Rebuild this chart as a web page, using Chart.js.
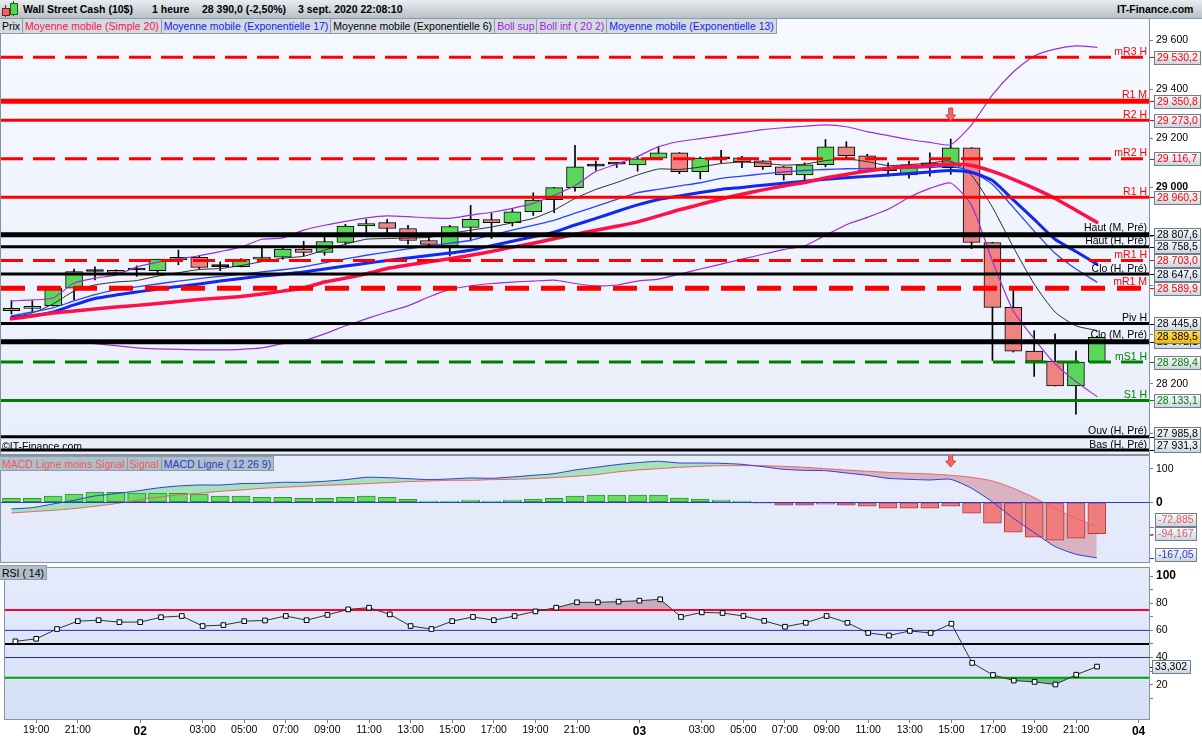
<!DOCTYPE html>
<html><head><meta charset="utf-8">
<script src="https://cdn.jsdelivr.net/npm/chart.js@4.4.1/dist/chart.umd.min.js"></script>
<style>
html,body{margin:0;padding:0}
body{width:1202px;height:740px;overflow:hidden;background:#fff;position:relative;font-family:"Liberation Sans",Arial,sans-serif;font-size:10.5px;color:#000}
canvas{position:absolute;left:0}
.ov{position:absolute;white-space:nowrap;z-index:5}
#title{left:0;top:0;width:1202px;height:19px;background:linear-gradient(#e9edf0,#b7c1c9);border-bottom:1px solid #8d9aa5;box-sizing:border-box;font-weight:bold;line-height:18px}
#title span{position:absolute;top:0}
.leg{display:flex;height:15px;line-height:14px;box-sizing:border-box}
.leg span{padding:0 2px;border-right:1px solid #8e9ca8;border-bottom:1px solid #8e9ca8}
#legMain span{background:#d3dbe1}
#legMacd span,#legRsi span{background:#aebfca;border-top:1px solid #8e9ca8}
</style></head>
<body>
<div id="title" class="ov">
  <div style="position:absolute;left:5px;top:5px;width:1px;height:12px;background:#333"></div>
  <div style="position:absolute;left:2px;top:8px;width:6px;height:6px;background:#f06060;border:1px solid #702020"></div>
  <div style="position:absolute;left:13px;top:1px;width:1px;height:15px;background:#333"></div>
  <div style="position:absolute;left:10px;top:3px;width:6px;height:10px;background:#50d850;border:1px solid #206020"></div>
  <span style="left:23px">Wall Street Cash (10$)</span>
  <span style="left:152px">1 heure</span>
  <span style="left:202px">28 390,0 (-2,50%)</span>
  <span style="left:298px">3 sept. 2020 22:08:10</span>
  <span style="left:1117px">IT-Finance.com</span>
</div>
<div id="legMain" class="ov leg" style="left:0;top:19px">
  <span style="color:#000">Prix</span>
  <span style="color:#ff1048">Moyenne mobile (Simple 20)</span>
  <span style="color:#1020ff">Moyenne mobile (Exponentielle 17)</span>
  <span style="color:#000">Moyenne mobile (Exponentielle 6)</span>
  <span style="color:#a020e0">Boll sup</span>
  <span style="color:#a020e0">Boll inf ( 20 2)</span>
  <span style="color:#1020ff">Moyenne mobile (Exponentielle 13)</span>
</div>
<div class="ov" style="left:2px;top:440px;line-height:12px">©IT-Finance.com</div>
<div id="legMacd" class="ov leg" style="left:0;top:456px">
  <span style="color:#f05a5a">MACD Ligne moins Signal</span>
  <span style="color:#f05a5a">Signal</span>
  <span style="color:#2a3ad0">MACD Ligne ( 12 26 9)</span>
</div>
<div id="legRsi" class="ov leg" style="left:0;top:565px">
  <span>RSI ( 14)</span>
</div>

<canvas id="cMain" width="1202" height="437" style="top:18px"></canvas>
<canvas id="cMacd" width="1202" height="108" style="top:455px"></canvas>
<canvas id="cRsi" width="1202" height="177" style="top:563px"></canvas>

<script>
// ===================== DATA =====================
// Hourly candles from 1 Sept 18:00 to 3 Sept 22:00
const openP  = [28498,28508,28519,28590,28658,28662,28664,28661,28705,28716,28678,28678,28708,28716,28749,28735,28776,28843,28857,28833,28784,28762,28837,28869,28857,28901,28950,28999,29087,29095,29092,29119,29141,29064,29116,29120,29108,29084,29051,29093,29165,29129,29068,29051,29092,29080,29161,28776,28512,28334,28293,28192,28289];
const highP  = [28539,28539,28590,28668,28677,28665,28681,28708,28745,28723,28697,28710,28756,28757,28781,28800,28850,28870,28870,28846,28796,28846,28927,28895,28911,28978,29000,29171,29107,29101,29127,29165,29142,29124,29151,29127,29109,29086,29100,29195,29186,29135,29100,29107,29141,29197,29162,28777,28586,28417,28404,28334,28394];
const lowP   = [28485,28492,28517,28543,28624,28650,28638,28651,28685,28668,28661,28676,28705,28708,28721,28724,28769,28816,28816,28769,28756,28721,28782,28792,28843,28886,28897,28985,29069,29081,29066,29116,29056,29035,29100,29080,29073,29030,29021,29084,29116,29065,29046,29038,29046,29053,28751,28296,28330,28231,28192,28077,28289];
const closeP = [28508,28516,28589,28658,28658,28654,28664,28708,28716,28674,28678,28707,28717,28749,28735,28780,28843,28853,28833,28784,28768,28841,28870,28857,28901,28949,28999,29084,29087,29095,29116,29141,29064,29119,29116,29104,29084,29051,29092,29165,29129,29068,29068,29092,29092,29161,28776,28512,28334,28293,28192,28289,28389.5];

const sma20  = [28465,28477,28489,28497,28505,28513,28520,28528,28536,28544,28550,28556,28566,28578,28591,28615,28631,28649,28670,28684,28697,28710,28724,28739,28757,28773,28791,28809,28826,28842,28860,28884,28909,28931,28953,28972,28990,29006,29020,29039,29053,29067,29077,29084,29089,29095,29089,29065,29033,28996,28955,28907,28858];
const ema17  = [28471,28478,28493,28522,28548,28562,28574,28587,28597,28607,28619,28629,28639,28647,28656,28668,28680,28691,28703,28713,28723,28733,28744,28763,28781,28799,28818,28847,28874,28902,28929,28951,28965,28979,28992,29000,29009,29017,29025,29033,29039,29045,29051,29057,29063,29069,29061,29028,28949,28870,28789,28739,28688];
const ema13  = [28477,28493,28510,28538,28564,28583,28595,28607,28619,28629,28638,28647,28656,28665,28677,28693,28709,28724,28737,28750,28762,28773,28785,28806,28826,28846,28866,28895,28923,28951,28979,28992,29006,29019,29037,29046,29055,29063,29069,29073,29076,29077,29078,29079,29081,29086,29065,29012,28919,28822,28732,28668,28615];
const ema6   = [28473,28489,28526,28578,28603,28615,28621,28639,28653,28666,28670,28682,28698,28712,28720,28745,28769,28789,28792,28794,28797,28812,28826,28839,28856,28874,28908,28955,28992,29020,29051,29075,29073,29083,29097,29103,29099,29091,29095,29109,29116,29105,29089,29093,29099,29107,29049,28919,28757,28607,28493,28437,28418];
const bollSup = [28538,28542,28550,28611,28631,28643,28676,28696,28710,28722,28739,28757,28789,28795,28826,28846,28862,28876,28884,28881,28876,28874,28887,28899,28915,28935,28968,29008,29065,29095,29126,29166,29187,29199,29211,29223,29235,29243,29249,29255,29247,29227,29211,29195,29183,29174,29255,29377,29470,29535,29563,29576,29570];
const bollInf = [28376,28380,28380,28372,28364,28356,28347,28343,28341,28339,28339,28341,28347,28364,28376,28404,28437,28465,28493,28518,28554,28585,28599,28609,28615,28619,28623,28609,28599,28603,28619,28627,28647,28668,28688,28708,28728,28747,28762,28805,28848,28878,28911,28959,28996,29018,28927,28700,28497,28384,28282,28210,28149];

const macdLine = [-20,-16,-5,6,19,26,34,43,49,52,52,56,57,60,60,63,68,75,74,71,68,70,73,72,76,81,86,97,105,113,119,123,118,118,117,114,107,99,96,95,88,81,72,69,67,69,42,1,-48,-91,-133,-156,-167.05];
const macdSignal = [-32,-28,-24,-19,-12,-4,6,15,22,27,33,37,42,45,48,51,53,56,59,62,64,66,66,68,69,71,74,78,83,91,97,101,105,108,110,110,110,108,105,101,97,93,90,87,85,81,75,64,42,14,-19,-48,-72.885];
const macdHist = [12,12,19,25,31,30,28,28,27,25,19,19,15,15,12,12,15,19,15,9,4,4,7,4,7,10,12,19,22,22,22,22,13,10,7,4,-3,-9,-9,-6,-9,-12,-18,-18,-18,-12,-33,-63,-90,-105,-114,-108,-94.167];

const rsi14 = [51.9,53.8,61.0,66.8,67.5,66.1,66.1,69.7,70.6,63.2,63.9,66.8,67.3,70.6,67.5,71.4,75.5,76.7,71.8,63.2,61.0,66.8,69.9,67.5,70.6,74.0,76.7,80.7,80.7,81.2,81.9,82.9,69.9,73.3,72.8,70.6,67.0,62.7,65.6,70.6,65.6,58.1,56.2,59.6,58.1,64.9,36.0,27.1,23.0,22.0,20.1,27.3,33.302];

// Pivot / reference levels
const levelValues = [29530.2,29350.8,29273.0,29116.7,28960.3,28807.6,28758.5,28703.0,28647.6,28589.9,28445.8,28372.1,28289.4,28133.1,27985.8,27931.3];
const levelNames  = ['mR3 H','R1 M','R2 H','mR2 H','R1 H','Haut (M, Pré)','Haut (H, Pré)','mR1 H','Clo (H, Pré)','mR1 M','Piv H','Clo (M, Pré)','mS1 H','S1 H','Ouv (H, Pré)','Bas (H, Pré)'];
const lastPrice = 28389.5;
const signalCandle = 45;

// Axis ticks
const priceTicks = [28000,28200,28400,28600,28800,29000,29200,29400,29600];
const macdTicks = [-100,0,100];
const rsiTicks = [10,20,30,40,50,60,70,80,90,100];
const rsiLevels = [75,60,50,40,25];
const tickSlots  = [1,3,6,9,11,13,15,17,19,21,23,25,27,30,33,35,37,39,41,43,45,47,49,51,54];
const tickLabels = ['19:00','21:00','02','03:00','05:00','07:00','09:00','11:00','13:00','15:00','17:00','19:00','21:00','03','03:00','05:00','07:00','09:00','11:00','13:00','15:00','17:00','19:00','21:00','04'];
const dayLabels = ['02','03','04'];

// ===================== STYLES =====================
const FONT = '"Liberation Sans", Arial, sans-serif';
const RED = '#ff0000', BLK = '#000000', GRN = '#008000';
const S = {
  r:   {c:RED, w:3, d:[]},   rT: {c:RED, w:5, d:[]},
  rd:  {c:RED, w:3, d:[22,10]}, rdT:{c:RED, w:5, d:[24,12]},
  k:   {c:BLK, w:3, d:[]},   kT: {c:BLK, w:5, d:[]},
  g:   {c:GRN, w:3, d:[]},   gd: {c:GRN, w:3, d:[22,10]}
};
const levelStyle = [S.rd,S.rT,S.r,S.rd,S.r,S.kT,S.k,S.rd,S.k,S.rdT,S.k,S.kT,S.gd,S.g,S.k,S.k];
const rsiLevelStyle = [{c:'#ff0030',w:2},{c:'#2828d0',w:1},{c:'#000',w:2},{c:'#2828d0',w:1},{c:'#00a000',w:2}];
const AXIS_W = 53;
const X_MIN = -0.5, X_MAX = 54.5;

Chart.defaults.font.family = FONT;
Chart.defaults.font.size = 10.5;
Chart.defaults.color = '#000';
Chart.defaults.animation = false;
Chart.defaults.events = [];
Chart.defaults.plugins.legend.display = false;
Chart.defaults.plugins.tooltip.enabled = false;

function xy(arr){ return arr.map((v,i)=>({x:i,y:v})); }
function fmtNum(v,d){
  let s = Math.abs(v).toFixed(d);
  let parts = s.split('.');
  let ip = parts[0].replace(/\B(?=(\d{3})+(?!\d))/g,' ');
  return (v<0?'-':'') + ip + (parts.length>1 ? ','+parts[1] : '');
}
function fitY(s){ s.width = AXIS_W; s.paddingTop = 0; s.paddingBottom = 0; }
function fitX(s){ s.height = 21; s.paddingLeft = 0; s.paddingRight = 0; }

const bgPlugin = {
  id:'bg',
  beforeDraw(chart, args, o){
    const {ctx, chartArea:a, width, height} = chart;
    ctx.save();
    ctx.fillStyle = '#fff'; ctx.fillRect(0,0,width,height);
    const g = ctx.createLinearGradient(0,a.top,0,a.bottom);
    g.addColorStop(0,o.top); g.addColorStop(1,o.bottom);
    ctx.fillStyle = g; ctx.fillRect(a.left,a.top,a.right-a.left,a.bottom-a.top);
    ctx.restore();
  },
  afterDraw(chart){
    const {ctx, chartArea:a} = chart;
    ctx.save();
    ctx.strokeStyle = '#8393a2'; ctx.lineWidth = 1;
    ctx.strokeRect(Math.floor(a.left)-0.5, Math.floor(a.top)-0.5, Math.round(a.right-a.left)+1, Math.round(a.bottom-a.top)+1);
    ctx.restore();
  }
};

function drawBox(ctx, x, yc, text, color, yellow){
  ctx.font = '10.5px ' + FONT;
  const w = Math.ceil(ctx.measureText(text).width) + 5;
  const h = 13;
  const top = Math.round(yc - h/2) + 0.5;
  const left = Math.round(x) + 0.5;
  const g = ctx.createLinearGradient(0,top,0,top+h);
  if (yellow){ g.addColorStop(0,'#ffe05a'); g.addColorStop(1,'#f2b800'); }
  else { g.addColorStop(0,'#fbfcff'); g.addColorStop(1,'#cbd5df'); }
  ctx.fillStyle = g; ctx.fillRect(left,top,w,h);
  ctx.strokeStyle = '#6e7e8e'; ctx.lineWidth = 1; ctx.strokeRect(left,top,w,h);
  ctx.fillStyle = color; ctx.textAlign = 'left'; ctx.textBaseline = 'middle';
  ctx.fillText(text, left+2.5, top+h/2+0.5);
}
function spreadBoxes(items, h, maxY){
  items.sort((p,q)=>p.y-q.y);
  for (let i=items.length-1;i>=0;i--){
    const lim = (i===items.length-1) ? maxY : items[i+1].by - h;
    items[i].by = Math.min(items[i].y, lim);
  }
  return items;
}
function drawArrow(ctx, x, tip){
  ctx.save();
  ctx.beginPath();
  ctx.moveTo(x-2,tip-13); ctx.lineTo(x+2,tip-13); ctx.lineTo(x+2,tip-6); ctx.lineTo(x+5,tip-6);
  ctx.lineTo(x,tip); ctx.lineTo(x-5,tip-6); ctx.lineTo(x-2,tip-6); ctx.closePath();
  ctx.fillStyle = '#f26868'; ctx.fill();
  ctx.strokeStyle = '#c84040'; ctx.lineWidth = 1; ctx.stroke();
  ctx.restore();
}

// ---------- main price chart ----------
const levelPlugin = {
  id:'levels',
  afterDatasetsDraw(chart){
    const {ctx, chartArea:a, scales:{y}} = chart;
    ctx.save();
    ctx.beginPath(); ctx.rect(a.left,a.top,a.right-a.left,a.bottom-a.top); ctx.clip();
    levelValues.forEach((v,i)=>{
      const st = levelStyle[i];
      const py = y.getPixelForValue(v);
      ctx.strokeStyle = st.c; ctx.lineWidth = st.w; ctx.setLineDash(st.d);
      ctx.beginPath(); ctx.moveTo(a.left,py); ctx.lineTo(a.right,py); ctx.stroke();
    });
    ctx.setLineDash([]);
    ctx.font = '10.5px ' + FONT; ctx.textAlign = 'right'; ctx.textBaseline = 'alphabetic';
    levelValues.forEach((v,i)=>{
      const st = levelStyle[i];
      const py = y.getPixelForValue(v);
      ctx.fillStyle = st.c;
      ctx.fillText(levelNames[i], a.right-2, py - st.w/2 - 1);
    });
    ctx.restore();
  },
  afterDraw(chart){
    const {ctx, chartArea:a, scales:{x,y}} = chart;
    ctx.save();
    drawArrow(ctx, x.getPixelForValue(signalCandle), y.getPixelForValue(highP[signalCandle]) - 18);
    const items = levelValues.map((v,i)=>({y:y.getPixelForValue(v), v, c:levelStyle[i].c}));
    spreadBoxes(items, 12.5, a.bottom - 8.5);
    items.forEach(it=>{
      ctx.strokeStyle = it.c; ctx.lineWidth = 1;
      ctx.beginPath(); ctx.moveTo(a.right+1, Math.round(it.y)+0.5); ctx.lineTo(a.right+5, Math.round(it.y)+0.5); ctx.stroke();
      drawBox(ctx, a.right+5, it.by, fmtNum(it.v,1), it.c, false);
    });
    drawBox(ctx, a.right+5, y.getPixelForValue(lastPrice) - 1, fmtNum(lastPrice,1), '#000', true);
    ctx.restore();
  }
};

function candleColor(i){
  if (closeP[i] > openP[i]) return '#5ad65a';
  if (closeP[i] < openP[i]) return '#f08282';
  return '#000';
}
function lineDs(arr, color, w, order){
  return {type:'line', data:xy(arr), borderColor:color, borderWidth:w, pointRadius:0, tension:0.2, fill:false, order, borderJoinStyle:'round', borderCapStyle:'round'};
}

new Chart(document.getElementById('cMain'), {
  type:'bar',
  data:{datasets:[
    lineDs(sma20,'#ff1048',3.5,1),
    lineDs(ema17,'#1028f0',3,2),
    lineDs(ema13,'#2a44ff',1.3,3),
    lineDs(ema6,'#2a2a2a',1,4),
    lineDs(bollSup,'#9c30d8',1.2,5),
    lineDs(bollInf,'#9c30d8',1.2,6),
    {type:'bar', data:openP.map((o,i)=>({x:i,y:[o,closeP[i]]})), barThickness:17, grouped:false,
     backgroundColor:(c)=>candleColor(c.dataIndex), borderColor:'#000', borderWidth:1, borderSkipped:false, minBarLength:2, order:7},
    {type:'bar', data:lowP.map((l,i)=>({x:i,y:[l,highP[i]]})), barThickness:1, grouped:false,
     backgroundColor:'#000', borderWidth:0, order:8}
  ]},
  options:{
    responsive:false, devicePixelRatio:1,
    layout:{padding:{left:1,right:0,top:1,bottom:1}},
    scales:{
      x:{type:'linear', min:X_MIN, max:X_MAX, display:false, offset:false},
      y:{type:'linear', position:'right', min:27915.1, max:29685.5,
        afterFit: fitY,
        afterBuildTicks(s){ s.ticks = priceTicks.map(v=>({value:v})); },
        ticks:{autoSkip:false, callback:(v)=>fmtNum(v,0), padding:3, color:'#000',
          font:(c)=>({family:FONT, size:10.5, weight:(c.tick && c.tick.value%1000===0)?'bold':'normal'})},
        grid:{drawOnChartArea:false, tickLength:4, color:'#6f7f8f'},
        border:{color:'#7f8f9f'}
      }
    },
    plugins:{bg:{top:'#f7f9ff', bottom:'#e8eefa'}}
  },
  plugins:[bgPlugin, levelPlugin]
});

// ---------- MACD chart ----------
const macdPlugin = {
  id:'macdExtras',
  afterDatasetsDraw(chart){
    const {ctx, chartArea:a, scales:{y}} = chart;
    const py = Math.round(y.getPixelForValue(0)) + 0.5;
    ctx.save();
    ctx.strokeStyle = '#2a3ae0'; ctx.lineWidth = 1;
    ctx.beginPath(); ctx.moveTo(a.left,py); ctx.lineTo(a.right,py); ctx.stroke();
    ctx.restore();
  },
  afterDraw(chart){
    const {ctx, chartArea:a, scales:{x,y}} = chart;
    ctx.save();
    drawArrow(ctx, x.getPixelForValue(signalCandle), a.top + 11);
    const n = macdLine.length - 1;
    const items = [
      {v:macdSignal[n], c:'#e85a5a', d:3},
      {v:macdHist[n], c:'#e85a5a', d:3},
      {v:macdLine[n], c:'#2a3ad0', d:2}
    ].map(it=>Object.assign(it,{y:y.getPixelForValue(it.v)}));
    spreadBoxes(items, 14, a.bottom - 7.5);
    items.forEach(it=>{
      ctx.strokeStyle = it.c; ctx.lineWidth = 1;
      ctx.beginPath(); ctx.moveTo(a.right+1, Math.round(it.y)+0.5); ctx.lineTo(a.right+5, Math.round(it.y)+0.5); ctx.stroke();
      drawBox(ctx, a.right+6, it.by, fmtNum(it.v,it.d), it.c, false);
    });
    ctx.restore();
  }
};

new Chart(document.getElementById('cMacd'), {
  type:'bar',
  data:{datasets:[
    {type:'line', data:xy(macdLine), borderColor:'#2a3ae0', borderWidth:1, pointRadius:0, tension:0.2, order:1,
     fill:{target:1, above:'rgba(110,220,135,0.55)', below:'rgba(205,110,125,0.45)'}},
    {type:'line', data:xy(macdSignal), borderColor:'#f06060', borderWidth:1, pointRadius:0, tension:0.2, order:2, fill:false},
    {type:'bar', data:xy(macdHist), barThickness:18, grouped:false, order:3,
     backgroundColor:(c)=> macdHist[c.dataIndex] >= 0 ? '#66dc66' : '#f07d7d',
     borderColor:(c)=> macdHist[c.dataIndex] >= 0 ? '#2a9a2a' : '#b03a3a',
     borderWidth:1, borderSkipped:false}
  ]},
  options:{
    responsive:false, devicePixelRatio:1,
    layout:{padding:{left:1,right:0,top:1,bottom:1}},
    scales:{
      x:{type:'linear', min:X_MIN, max:X_MAX, display:false, offset:false},
      y:{type:'linear', position:'right', min:-179.3, max:139,
        afterFit: fitY,
        afterBuildTicks(s){ s.ticks = macdTicks.map(v=>({value:v})); },
        ticks:{autoSkip:false, callback:(v)=>String(v), padding:3, color:'#000',
          font:(c)=>({family:FONT, size:c.tick && c.tick.value===0 ? 12 : 10.5, weight:(c.tick && c.tick.value===0)?'bold':'normal'})},
        grid:{drawOnChartArea:false, tickLength:4, color:'#6f7f8f'},
        border:{color:'#7f8f9f'}
      }
    },
    plugins:{bg:{top:'#e7edfb', bottom:'#e3e9fa'}, filler:{drawTime:'beforeDatasetsDraw'}}
  },
  plugins:[bgPlugin, macdPlugin]
});

// ---------- RSI chart ----------
const rsiPlugin = {
  id:'rsiExtras',
  beforeDatasetsDraw(chart){
    const {ctx, chartArea:a, scales:{y}} = chart;
    ctx.save();
    rsiLevels.forEach((v,i)=>{
      const st = rsiLevelStyle[i];
      const py = y.getPixelForValue(v);
      ctx.strokeStyle = st.c; ctx.lineWidth = st.w;
      ctx.beginPath(); ctx.moveTo(a.left,py); ctx.lineTo(a.right,py); ctx.stroke();
    });
    ctx.restore();
  },
  afterDraw(chart){
    const {ctx, chartArea:a, scales:{y}} = chart;
    const v = rsi14[rsi14.length-1];
    const py = y.getPixelForValue(v);
    ctx.save();
    ctx.strokeStyle = '#000'; ctx.lineWidth = 1;
    ctx.beginPath(); ctx.moveTo(a.right+1, Math.round(py)+0.5); ctx.lineTo(a.right+4, Math.round(py)+0.5); ctx.stroke();
    drawBox(ctx, a.right+3, py, fmtNum(v,3), '#000', false);
    ctx.restore();
  }
};

new Chart(document.getElementById('cRsi'), {
  type:'line',
  data:{datasets:[
    {data:xy(rsi14), borderColor:'#333', borderWidth:1, tension:0,
     pointStyle:'rect', pointRadius:3.3, pointBackgroundColor:'#fff', pointBorderColor:'#000', pointBorderWidth:1,
     fill:{target:{value:75}, above:'rgba(170,95,115,0.45)', below:'rgba(0,0,0,0)'}},
    {data:xy(rsi14), borderWidth:0, borderColor:'rgba(0,0,0,0)', pointRadius:0, tension:0,
     fill:{target:{value:25}, above:'rgba(0,0,0,0)', below:'rgba(40,160,70,0.6)'}}
  ]},
  options:{
    responsive:false, devicePixelRatio:1,
    layout:{padding:{left:1,right:0,top:2,bottom:0}},
    scales:{
      x:{type:'linear', min:X_MIN, max:X_MAX, position:'bottom', offset:false,
        afterFit: fitX,
        afterBuildTicks(s){ s.ticks = tickSlots.map(v=>({value:v})); },
        ticks:{autoSkip:false, maxRotation:0, padding:1, color:'#000',
          callback:(v)=> tickLabels[tickSlots.indexOf(v)],
          font:(c)=>{ const lab = c.tick ? tickLabels[tickSlots.indexOf(c.tick.value)] : '';
                      const day = dayLabels.includes(lab);
                      return {family:FONT, size: day?12:10.5, weight: day?'bold':'normal'}; }},
        grid:{drawOnChartArea:false, tickLength:4, color:'#6f7f8f'},
        border:{color:'#7f8f9f'}
      },
      y:{type:'linear', position:'right', min:-5.35, max:106,
        afterFit: fitY,
        afterBuildTicks(s){ s.ticks = rsiTicks.map(v=>({value:v})); },
        ticks:{autoSkip:false, callback:(v)=> v%20===0 ? String(v) : '', padding:3, color:'#000',
          font:(c)=>({family:FONT, size:(c.tick && c.tick.value===100)?12:10.5, weight:(c.tick && c.tick.value===100)?'bold':'normal'})},
        grid:{drawOnChartArea:false, tickLength:4, color:'#6f7f8f'},
        border:{color:'#7f8f9f'}
      }
    },
    plugins:{bg:{top:'#e4ebfb', bottom:'#d6e0f7'}, filler:{drawTime:'beforeDatasetsDraw'}}
  },
  plugins:[bgPlugin, rsiPlugin]
});
</script>
</body></html>
